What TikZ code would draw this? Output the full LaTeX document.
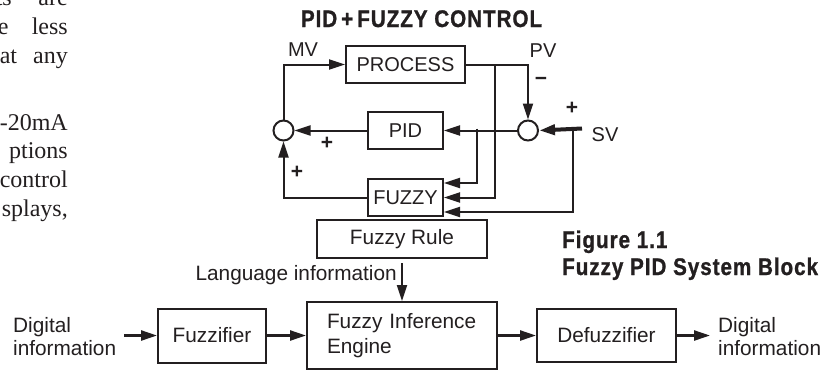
\documentclass[tikz,border=0pt]{standalone}
\usepackage{fontspec}
\setmainfont{Liberation Sans}
\newfontfamily\pageserif{Liberation Serif}
\newfontfamily\headfont[FakeStretch=0.86,LetterSpace=4,FakeBold=1]{Liberation Sans}
\usetikzlibrary{arrows.meta, positioning}
\usepackage{xcolor}
\definecolor{inkcol}{RGB}{35,31,32}

\begin{document}
\begin{tikzpicture}[
    x = 1pt, y = -1pt,
    block/.style    = {rectangle, draw=inkcol, line width=2pt, inner sep=0pt,
                       text=inkcol, font=\fontsize{20}{24}\selectfont},
    lowblock/.style = {block, font=\fontsize{20.8}{25}\selectfont},
    junction/.style = {circle, draw=inkcol, line width=2pt, minimum size=20pt,
                       inner sep=0pt},
    signame/.style  = {text=inkcol, inner sep=0pt, font=\fontsize{20}{24}\selectfont},
    sign/.style     = {text=inkcol, inner sep=0pt,
                       font=\bfseries\fontsize{21}{24}\selectfont},
    infotext/.style = {text=inkcol, inner sep=0pt, align=left,
                       font=\fontsize{20.8}{23.5}\selectfont},
    heading/.style  = {text=inkcol, inner sep=0pt,
                       font=\headfont\bfseries\fontsize{24}{28}\selectfont},
    pagetext/.style = {text=inkcol, inner sep=0pt,
                       font=\pageserif\fontsize{24}{28}\selectfont},
    arrow/.style    = {-{Triangle[length=16pt,width=10pt]}, line width=2pt,
                       draw=inkcol},
]
\useasboundingbox (0,0) rectangle (834,370);
\clip (0,0) rectangle (834,370);
\fill[white] (0,0) rectangle (834,370);

% ── Page text cut by the figure ─────────────────────────────────
\node[pagetext, anchor=base east] (frag1) at (68,5)   {\makebox[72pt][s]{ts are}};
\node[pagetext, anchor=base east] (frag2) at (68,34)  {\makebox[70pt][s]{e less}};
\node[pagetext, anchor=base east] (frag3) at (68,63)  {\makebox[68pt][s]{at any}};
\node[pagetext, anchor=base east] (frag4) at (68,130) {-20mA};
\node[pagetext, anchor=base east] (frag5) at (68,158) {ptions};
\node[pagetext, anchor=base east] (frag6) at (68,187) {control};
\node[pagetext, anchor=base east] (frag7) at (68,216) {splays,};

% ── PID + fuzzy loop ────────────────────────────────────────────
\node[heading, anchor=base] (title) at (421.5,27) {PID\,+\,FUZZY CONTROL};

\node[block, minimum width=119pt, minimum height=37pt] (proc)
    at (405.5,64.5) {PROCESS};
\node[block, minimum width=75pt, minimum height=37pt,
      below=27pt of proc] (pid) {PID};
\node[block, minimum width=75pt, minimum height=37pt,
      below=28pt of pid] (fuzzy) {FUZZY};

\node[junction, left=72.5pt of pid] (suml) {};
\node[junction, right=73pt of pid] (sumr) {};

\node[signame] (mv) at (303,50)  {MV};
\node[signame] (pv) at (543,51)  {PV};
\node[signame] (sv) at (605,135) {SV};
\node[sign] (pvsign)  at (541,81)  {−};
\node[sign] (svsign)  at (572,108) {+};
\node[sign] (pidsign) at (327,143) {+};
\node[sign] (fuzsign) at (297,172) {+};

\coordinate (pvtap) at (495,64.5);
\coordinate (etap)  at (477,128.5);
\coordinate (svtap) at (573,128.5);
\coordinate (svin)  at (582,128.5);

% ── Loop connectors ─────────────────────────────────────────────
\draw[arrow] (suml.north) |- (proc.west);
\draw[arrow] (proc.east) -| (sumr.north);
\draw[arrow] (sumr.west) -- (pid.east);
\draw[arrow] (pid.west) -- (suml.east);
\draw[arrow] (etap) |- ([yshift=14.5pt]fuzzy.east);
\draw[arrow] (pvtap) |- (fuzzy.east);
\draw[arrow] (svtap) |- ([yshift=-14.5pt]fuzzy.east);
\draw[arrow, line width=4pt] (svin) -- (sumr.east);
\draw[arrow] (fuzzy.west) -| (suml.south);

% ── Caption ─────────────────────────────────────────────────────
\node[heading, anchor=base west] (figno)   at (562,248) {Figure 1.1};
\node[heading, anchor=base west] (figname) at (562,275) {Fuzzy PID System Block};

% ── Fuzzy inference chain ───────────────────────────────────────
\node[lowblock, minimum width=170pt, minimum height=38pt] (rule)
    at (402,239) {Fuzzy Rule};
\node[lowblock, text width=150pt, inner xsep=20pt, minimum height=67pt,
      align=left, below=42pt of rule] (fie) {Fuzzy Inference\\Engine};
\node[lowblock, minimum width=108pt, minimum height=54pt,
      left=39pt of fie] (fuzzifier) {Fuzzifier};
\node[lowblock, minimum width=139pt, minimum height=53pt,
      right=38pt of fie] (defuzz) {Defuzzifier};

\node[infotext, anchor=west] (din)  at (13,336.5)  {Digital\\information};
\node[infotext, anchor=west] (dout) at (718,336.5) {Digital\\information};
\node[infotext, anchor=east] (lang) at (397,275)   {Language information};

\draw[arrow, line width=2.4pt, shorten <=8pt] (din.east |- fuzzifier.west) -- (fuzzifier.west);
\draw[arrow, line width=2.4pt] (fuzzifier.east) -- (fie.west |- fuzzifier.east);
\draw[arrow, line width=2.4pt] (fie.east |- defuzz.west) -- (defuzz.west);
\draw[arrow, line width=2.4pt, shorten >=8pt] (defuzz.east) -- (defuzz.east -| dout.west);
\draw[arrow, shorten <=4pt] (rule.south) -- (fie.north);

\end{tikzpicture}
\end{document}
